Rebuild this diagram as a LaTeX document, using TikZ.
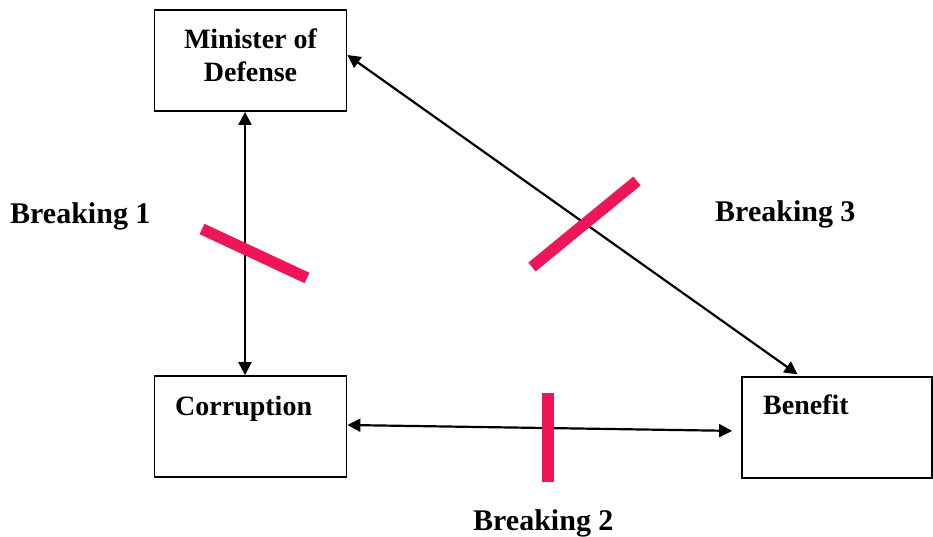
\documentclass[tikz,border=0pt]{standalone}
\usepackage{fontspec}
\setmainfont{Liberation Serif}
\usetikzlibrary{arrows.meta,calc}
\definecolor{barred}{RGB}{236,22,88}
\begin{document}
\begin{tikzpicture}[x=1pt,y=-1pt,
  box/.style={draw=black,line width=1.8pt,rectangle,inner sep=0pt,minimum width=192pt,minimum height=101pt},
  boxtext/.style={font=\fontsize{28}{33}\selectfont\bfseries,inner sep=0pt},
  breaklabel/.style={font=\fontsize{30}{36}\selectfont\bfseries,inner sep=0pt,anchor=base west},
  link/.style={line width=2.2pt,{Triangle[length=13pt,width=13pt]}-{Triangle[length=13pt,width=13pt]}},
  breakbar/.style={draw=barred,line width=11.5pt,line cap=butt}]
\useasboundingbox (0,0) rectangle (933,537);
% boxes
\node[box] (mod) at (250.5,60.5) {};
\node[boxtext,align=center] (modt) at (250.5,55) {Minister of\\Defense};
\node[box] (cor) at (250.5,426.5) {};
\node[boxtext,anchor=base west] (cort) at (175,415) {Corruption};
\node[box,minimum width=190pt] (ben) at (837,427.5) {};
\node[boxtext,anchor=base west] (bent) at (763,414) {Benefit};
% helper coordinates
\coordinate (vx) at (245,0);
\coordinate (dx) at (800,0);
% connectors
\draw[link] (mod.south -| vx) -- (cor.north -| vx);
\draw[link,shorten >=9pt] ([yshift=1.5pt]cor.east) -- ([yshift=-3.5pt]ben.west);
\draw[link,shorten >=3pt] ([yshift=5.5pt]mod.east) -- (ben.north -| dx);
% breaking bars
\coordinate (b1a) at (202,229); \coordinate (b1b) at (307,278);
\coordinate (b2a) at (548,393); \coordinate (b2b) at (548,482);
\coordinate (b3a) at (532,267); \coordinate (b3b) at (637,181);
\draw[breakbar] (b1a) -- (b1b);
\draw[breakbar] (b2a) -- (b2b);
\draw[breakbar] (b3a) -- (b3b);
% labels
\node[breaklabel] (l1) at (10,224) {Breaking 1};
\node[breaklabel] (l3) at (715,222) {Breaking 3};
\node[breaklabel] (l2) at (473,530) {Breaking 2};
\end{tikzpicture}
\end{document}
